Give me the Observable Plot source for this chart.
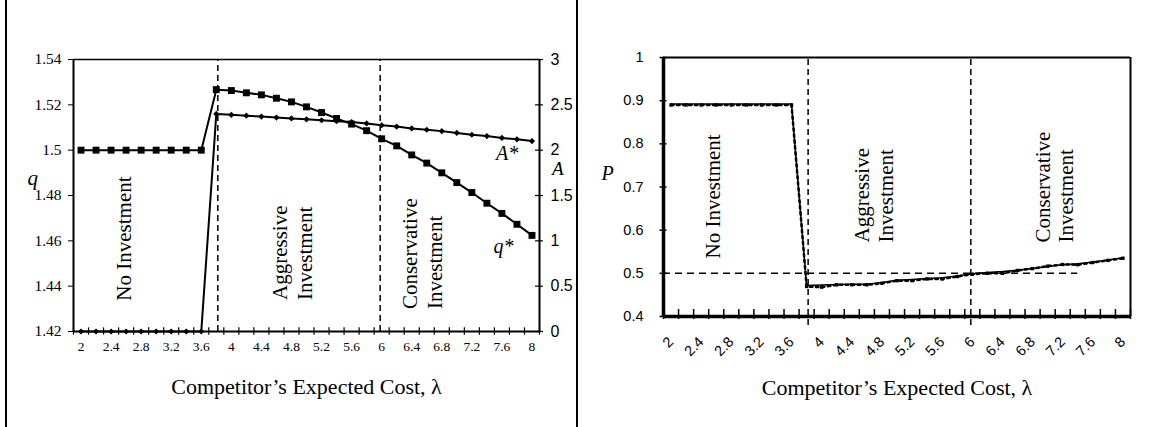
<!DOCTYPE html>
<html><head><meta charset="utf-8">
<script src="https://cdn.jsdelivr.net/npm/d3@7"></script>
<script src="https://cdn.jsdelivr.net/npm/@observablehq/plot@0.6"></script>
<style>
body{margin:0;background:#fff;}
#wrap{position:relative;width:1153px;height:427px;overflow:hidden;background:#fff;}
#left,#right{position:absolute;top:0;}
#left{left:0;} #right{left:576px;}
.vline{position:absolute;top:0;width:2px;height:427px;background:#000;}
#left g[aria-label="y-axis tick label"][text-anchor="end"]{font-size:15.5px !important;}
#left g[aria-label="y-axis tick label"][text-anchor="start"]{font-size:16px !important;}
#left g[aria-label="x-axis tick label"]{font-size:13.5px !important;}
#right g[aria-label="y-axis tick label"]{font-size:14.5px !important;}
#right g[aria-label="x-axis tick label"]{font-size:14.5px !important;}
</style></head><body>
<div id="wrap">
 <div id="left"></div><div id="right"></div>
 <div class="vline" style="left:5px"></div>
 <div class="vline" style="left:576px"></div>
</div>
<script>
// ---- data ----
const lambda = [2,2.2,2.4,2.6,2.8,3,3.2,3.4,3.6,3.8,4,4.2,4.4,4.6,4.8,5,5.2,5.4,5.6,5.8,6,6.2,6.4,6.6,6.8,7,7.2,7.4,7.6,7.8,8];
const qStar = [1.5,1.5,1.5,1.5,1.5,1.5,1.5,1.5,1.5,
  1.5267,1.5263,1.5253,1.5244,1.5229,1.5213,1.5191,1.5166,1.5140,1.5115,1.5086,1.5050,
  1.5019,1.4979,1.4943,1.4900,1.4857,1.4813,1.4766,1.4721,1.4673,1.4624];
const aStar = [0,0,0,0,0,0,0,0,0,
  2.40,2.39,2.38,2.37,2.36,2.35,2.34,2.33,2.32,2.31,2.295,2.275,
  2.26,2.24,2.225,2.21,2.19,2.17,2.155,2.135,2.12,2.10];
const pSolid = [0.892,0.892,0.892,0.892,0.892,0.892,0.892,0.892,0.892,
  0.472,0.473,0.474,0.475,0.475,0.479,0.484,0.486,0.488,0.490,0.494,0.499,
  0.502,0.504,0.507,0.511,0.516,0.520,0.522,0.526,0.531,0.536];
const pDotted = [0.89,0.89,0.89,0.89,0.89,0.89,0.89,0.89,0.89,
  0.4695,0.468,0.4734,0.4734,0.4734,0.477,0.483,0.483,0.487,0.487,0.4926,0.498,
  0.500,0.500,0.5066,0.511,0.5166,0.5205,0.520,0.525,0.530,0.535];
const regimeBounds = [3.82, 5.98];
const pReference = [0.5];
const xTickLabels = [2,2.4,2.8,3.2,3.6,4,4.4,4.8,5.2,5.6,6,6.4,6.8,7.2,7.6,8];
const qTicks = [1.42,1.44,1.46,1.48,1.5,1.52,1.54];
const aTicks = [0,0.5,1,1.5,2,2.5,3];
const pTicks = [0.4,0.5,0.6,0.7,0.8,0.9,1];
const regimeLabels = ["No Investment","Aggressive\nInvestment","Conservative\nInvestment"];
const xTitle = "Competitor\u2019s Expected Cost, \u03bb";

// ---- helpers ----
const serif = "'Liberation Serif','Times New Roman',serif";
const sans = "'Liberation Sans',Arial,sans-serif";
const rows = lambda.map((l,i)=>({l, q:qStar[i], a:aStar[i], ps:pSolid[i], pd:pDotted[i]}));
const edges = lambda.map(l => +(l-0.1).toFixed(2)).concat([+(lambda[lambda.length-1]+0.1).toFixed(2)]);
const X0 = edges[0], X1 = edges[edges.length-1];
const Q0 = 1.42, Q1 = 1.54;
const A2q = a => Q0 + a*((Q1-Q0)/3);
const fmt = v => String(Math.round(v*100)/100);

// ---- left chart ----
const left = Plot.plot({
  width:576, height:427, marginLeft:73, marginRight:37, marginTop:59, marginBottom:96,
  x:{domain:[X0,X1]}, y:{domain:[Q0,Q1]},
  style:{background:"transparent", color:"#000", fontFamily:serif, fontSize:"15px"},
  marks:[
    Plot.ruleX(regimeBounds, {y1:Q0, y2:Q1, stroke:"#000", strokeWidth:1.5, strokeDasharray:"6,4"}),
    Plot.ruleY([Q1], {x1:X0, x2:X1, stroke:"#000", strokeWidth:1.5}),
    Plot.ruleX([X1], {y1:Q0, y2:Q1, stroke:"#000", strokeWidth:2}),
    Plot.ruleX([X0], {y1:Q0, y2:Q1, stroke:"#000", strokeWidth:2}),
    Plot.ruleY([Q0], {x1:X0, x2:X1, stroke:"#000", strokeWidth:2}),
    Plot.ruleX(edges, {y1:Q0-0.0016, y2:Q0+0.0016, stroke:"#000", strokeWidth:1.2}),
    Plot.ruleY(aTicks.map(A2q), {x1:X1-0.053, x2:X1+0.053, stroke:"#000", strokeWidth:1.2}),
    Plot.axisY({ticks:qTicks, label:null, tickSize:5, tickPadding:7, tickFormat:fmt, fontSize:15.5, fontFamily:serif}),
    Plot.axisY({anchor:"right", label:null, ticks:aTicks.map(A2q), tickSize:0, tickPadding:11,
      tickFormat: d => fmt((d-Q0)/((Q1-Q0)/3)), fontSize:16, fontFamily:sans}),
    Plot.axisX({ticks:xTickLabels, label:null, tickSize:0, tickPadding:10, tickFormat:d=>String(d), fontSize:13.5, fontFamily:serif}),
    Plot.line(rows, {x:"l", y:"q", stroke:"#000", strokeWidth:2}),
    Plot.dot(rows, {x:"l", y:"q", symbol:"square", r:3.9, fill:"#000", stroke:null}),
    Plot.line(rows, {x:"l", y:d=>A2q(d.a), stroke:"#000", strokeWidth:2}),
    Plot.dot(rows, {x:"l", y:d=>A2q(d.a), symbol:"diamond2", r:2.8, fill:"#000", stroke:null}),
    Plot.text([regimeLabels[0]], {x:2.57, y:1.4336, rotate:-90, textAnchor:"start", lineAnchor:"middle", fontSize:21, fontFamily:serif}),
    Plot.text([regimeLabels[1]], {x:4.794, y:1.4339, rotate:-90, textAnchor:"start", lineAnchor:"middle", lineHeight:1.19, fontSize:21, fontFamily:serif}),
    Plot.text([regimeLabels[2]], {x:6.535, y:1.4299, rotate:-90, textAnchor:"start", lineAnchor:"middle", lineHeight:1.19, fontSize:21, fontFamily:serif}),
    Plot.text(["A*"], {x:7.67, y:1.4985, fontStyle:"italic", fontSize:20, fontFamily:serif, lineAnchor:"middle"}),
    Plot.text(["q*"], {x:7.62, y:1.4574, fontStyle:"italic", fontSize:20, fontFamily:serif, lineAnchor:"middle"}),
    Plot.text(["q"], {frameAnchor:"left", dx:-46, dy:-17, fontStyle:"italic", fontSize:21, fontFamily:serif, lineAnchor:"middle"}),
    Plot.text(["A"], {frameAnchor:"right", dx:24, dy:-27, fontStyle:"italic", fontSize:19, fontFamily:serif, lineAnchor:"middle"}),
    Plot.text([xTitle], {frameAnchor:"bottom", dy:55, fontSize:22, fontFamily:serif, lineAnchor:"middle"})
  ]
});
document.getElementById("left").appendChild(left);

// ---- right chart ----
const P0 = 0.4, P1 = 1;
const right = Plot.plot({
  width:577, height:427, marginLeft:87, marginRight:23, marginTop:57, marginBottom:111,
  x:{domain:[X0,X1]}, y:{domain:[P0,P1]},
  style:{background:"transparent", color:"#000", fontFamily:serif, fontSize:"15px"},
  marks:[
    Plot.ruleX(regimeBounds, {y1:P0-0.021, y2:P1, stroke:"#000", strokeWidth:1.5, strokeDasharray:"6,4"}),
    Plot.ruleY(pReference, {x1:X0, x2:7.4, stroke:"#000", strokeWidth:1.5, strokeDasharray:"7,5"}),
    Plot.ruleY([P1], {x1:X0, x2:X1, stroke:"#000", strokeWidth:2}),
    Plot.ruleX([X1], {y1:P0, y2:P1, stroke:"#000", strokeWidth:2}),
    Plot.ruleX([X0], {y1:P0, y2:P1, stroke:"#000", strokeWidth:3.5}),
    Plot.ruleY([P0], {x1:X0, x2:X1, stroke:"#000", strokeWidth:3.5}),
    Plot.ruleX(edges, {y1:P0-0.007, y2:P0+0.0162, stroke:"#000", strokeWidth:1.5}),
    Plot.ruleY(pTicks, {x1:X0-0.0465, x2:X0+0.0465, stroke:"#000", strokeWidth:1.5}),
    Plot.axisY({ticks:pTicks, label:null, tickSize:0, tickPadding:20, tickFormat:fmt, fontSize:14.5, fontFamily:sans}),
    Plot.axisX({ticks:xTickLabels, label:null, tickSize:0, tickPadding:23, tickRotate:-45, textAnchor:"end", lineAnchor:"middle",
      tickFormat:d=>String(d), fontSize:14.5, fontFamily:sans}),
    Plot.line(rows, {x:"l", y:"pd", stroke:"#000", strokeWidth:2.5, strokeDasharray:"2.5,3.5"}),
    Plot.dot(rows, {x:"l", y:"pd", symbol:"square", r:1.9, fill:"#000", stroke:null}),
    Plot.line(rows, {x:"l", y:"ps", stroke:"#000", strokeWidth:1.5}),
    Plot.text([regimeLabels[0]], {x:2.556, y:0.5343, rotate:-90, textAnchor:"start", lineAnchor:"middle", fontSize:21, fontFamily:serif}),
    Plot.text([regimeLabels[1]], {x:4.686, y:0.5714, rotate:-90, textAnchor:"start", lineAnchor:"middle", lineHeight:1.14, fontSize:21, fontFamily:serif}),
    Plot.text([regimeLabels[2]], {x:7.09, y:0.5714, rotate:-90, textAnchor:"start", lineAnchor:"middle", lineHeight:1.05, fontSize:21, fontFamily:serif}),
    Plot.text(["P"], {frameAnchor:"left", dx:-62, dy:-13.5, fontStyle:"italic", fontSize:20, fontFamily:serif, lineAnchor:"middle"}),
    Plot.text([xTitle], {frameAnchor:"bottom", dy:71, fontSize:22, fontFamily:serif, lineAnchor:"middle"})
  ]
});
document.getElementById("right").appendChild(right);
</script>
</body></html>
